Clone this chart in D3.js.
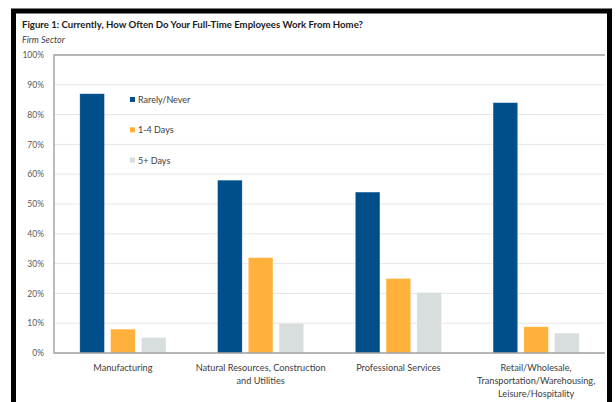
<!DOCTYPE html>
<html>
<head>
<meta charset="utf-8">
<script src="https://cdn.jsdelivr.net/npm/d3@7"></script>
<style>
  body { margin: 0; background: #fff; }
  svg { display: block; font-family: Lato, "Open Sans", sans-serif; }
</style>
</head>
<body>
<svg id="chart" width="616" height="402"></svg>
<script>
// data
const categories = [
  ["Manufacturing"],
  ["Natural Resources, Construction", "and Utilities"],
  ["Professional Services"],
  ["Retail/Wholesale,", "Transportation/Warehousing,", "Leisure/Hospitality"]
];
const seriesNames = ["Rarely/Never", "1-4 Days", "5+ Days"];
const rarelyNever = [87, 58, 54, 84];
const oneToFour = [8, 32, 25, 8.8];
const fivePlus = [5.2, 10, 20.3, 6.7];
const yTicks = [0, 10, 20, 30, 40, 50, 60, 70, 80, 90, 100];

const colors = ["#004f8b", "#ffb13b", "#d8dedd"];
const series = [rarelyNever, oneToFour, fivePlus];

const svg = d3.select("#chart");
const plotL = 54, plotR = 605, plotT = 55, plotB = 353;

// outer black frame
svg.append("rect")
  .attr("x", 13.5).attr("y", 11)
  .attr("width", 596).attr("height", 440)
  .attr("fill", "none")
  .attr("stroke", "#000")
  .attr("stroke-width", 5);

// title
svg.append("text")
  .attr("x", 22).attr("y", 28)
  .attr("font-size", 9.6).attr("font-weight", "bold")
  .attr("fill", "#1a1a1a")
  .text("Figure 1: Currently, How Often Do Your Full-Time Employees Work From Home?");
svg.append("text")
  .attr("x", 22).attr("y", 43)
  .attr("font-size", 9).attr("font-style", "italic")
  .attr("fill", "#404040")
  .text("Firm Sector");

const x0 = d3.scaleBand()
  .domain(d3.range(categories.length))
  .range([plotL, plotR])
  .paddingInner(0.375)
  .paddingOuter(0.1875);

const x1 = d3.scaleBand()
  .domain(d3.range(seriesNames.length))
  .range([0, x0.bandwidth()])
  .paddingInner(0.2);

const y = d3.scaleLinear().domain([0, 100]).range([plotB, plotT]);

// gridlines
svg.append("g")
  .selectAll("line")
  .data(yTicks.filter(d => d > 0 && d < 100))
  .join("line")
  .attr("x1", plotL).attr("x2", plotR)
  .attr("y1", d => y(d)).attr("y2", d => y(d))
  .attr("stroke", "#e6e6e6")
  .attr("stroke-width", 1);

// y axis labels
const yAxis = d3.axisLeft(y)
  .tickValues(yTicks)
  .tickFormat(d => d + "%")
  .tickSize(0)
  .tickPadding(10);
const gy = svg.append("g").attr("transform", `translate(${plotL},0)`).call(yAxis);
gy.select(".domain").remove();
gy.selectAll("text")
  .attr("font-size", 8.5)
  .attr("font-family", "Lato, sans-serif")
  .attr("fill", "#595959");

// bars
const groups = svg.append("g")
  .selectAll("g")
  .data(categories)
  .join("g")
  .attr("transform", (d, i) => `translate(${x0(i)},0)`);

groups.selectAll("rect")
  .data((d, i) => series.map((s, k) => ({ k, v: s[i] })))
  .join("rect")
  .attr("x", d => x1(d.k))
  .attr("width", x1.bandwidth())
  .attr("y", d => y(d.v))
  .attr("height", d => y(0) - y(d.v))
  .attr("fill", d => colors[d.k])
  .attr("stroke", "rgba(255,255,255,0.45)")
  .attr("stroke-width", 0.6);

// frame: top, left, bottom
svg.append("path")
  .attr("d", `M${plotR},${plotT}H${plotL}V${plotB}H${plotR}`)
  .attr("fill", "none")
  .attr("stroke", "#a0a0a0")
  .attr("stroke-width", 1.4);

// category labels
const xAxis = d3.axisBottom(x0).tickSize(0).tickFormat("");
const gx = svg.append("g").attr("transform", `translate(0,${plotB})`).call(xAxis);
gx.select(".domain").remove();
gx.selectAll(".tick").each(function (i) {
  const t = d3.select(this).append("text")
    .attr("text-anchor", "middle")
    .attr("font-size", 9.2)
    .attr("font-family", "Lato, sans-serif")
    .attr("fill", "#404040");
  categories[i].forEach((line, j) => {
    t.append("tspan").attr("x", 0).attr("y", 18 + j * 13).text(line);
  });
});

// legend
const legend = svg.append("g")
  .selectAll("g")
  .data(seriesNames)
  .join("g")
  .attr("transform", (d, i) => `translate(130,${100 + i * 30.3})`);
legend.append("rect")
  .attr("x", 0).attr("y", -3)
  .attr("width", 5).attr("height", 5)
  .attr("fill", (d, i) => colors[i]);
legend.append("text")
  .attr("x", 8).attr("y", 3)
  .attr("font-size", 9)
  .attr("fill", "#404040")
  .text(d => d);
</script>
</body>
</html>
